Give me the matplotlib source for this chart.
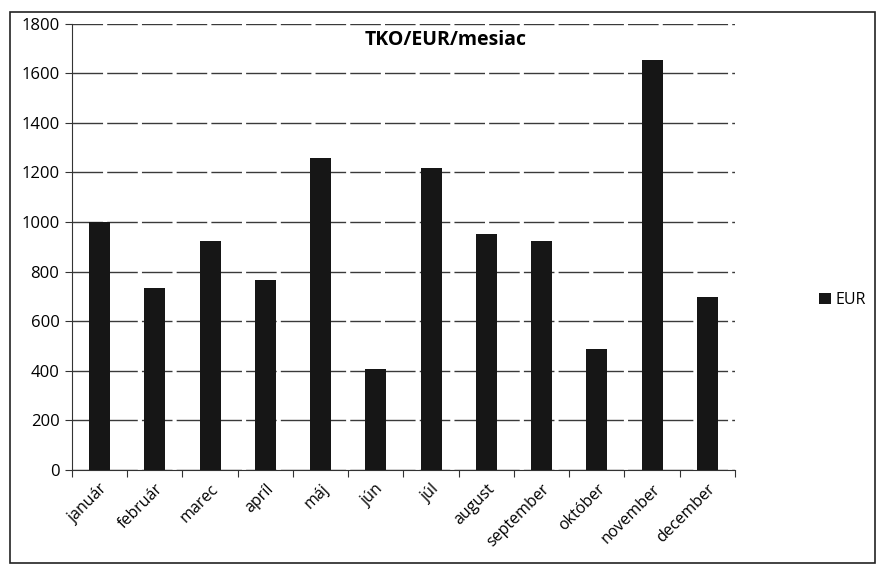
import matplotlib.pyplot as plt
from matplotlib.patches import Rectangle

months = ["január", "február", "marec", "apríl", "máj", "jún",
          "júl", "august", "september", "október", "november", "december"]
eur = [1000, 732, 925, 765, 1258, 405, 1216, 950, 925, 488, 1655, 697]
y_ticks = [0, 200, 400, 600, 800, 1000, 1200, 1400, 1600, 1800]

plt.rcParams['font.family'] = ['Open Sans', 'DejaVu Sans']

fig = plt.figure(figsize=(8.77, 5.66), dpi=100)
ax = fig.add_axes([0.082, 0.170, 0.756, 0.788])

x = list(range(len(months)))
ax.bar(x, eur, width=0.38, color='#161616', label='EUR', zorder=3)

# broken grid lines like the scanned one
ax.set_ylim(0, 1800)
ax.set_yticks(y_ticks)
ax.yaxis.grid(True, color='#3a3a3a', linewidth=1.0, linestyle=(0, (22, 3)), zorder=0)
ax.set_xlim(-0.5, len(months) - 0.5)

# tick marks sit between the categories, labels centred under bars
ax.set_xticks([i - 0.5 for i in range(len(months) + 1)])
ax.set_xticklabels([])
ax.set_xticks(x, minor=True)
ax.set_xticklabels(months, minor=True, rotation=45, ha='right', rotation_mode='anchor', fontsize=11.5)
ax.tick_params(axis='x', which='minor', length=0, pad=8)
ax.tick_params(axis='x', which='major', length=5, color='#333')
ax.tick_params(axis='y', length=5, color='#333', labelsize=12, pad=4)

for side in ['top', 'right']:
    ax.spines[side].set_visible(False)
ax.spines['left'].set_color('#333')
ax.spines['bottom'].set_color('#333')

fig.text(0.508, 0.93, 'TKO/EUR/mesiac', fontsize=14, fontweight='bold', ha='center', va='center')

fig.legend(loc='center left', bbox_to_anchor=(0.918, 0.47), frameon=False,
           fontsize=11.5, handlelength=0.7, handleheight=0.7, handletextpad=0.3)

# outer chart border
fig.patches.append(Rectangle((0.011, 0.006), 0.987, 0.972, transform=fig.transFigure,
                             fill=False, edgecolor='#222', linewidth=1.2))

fig.savefig('out.png', dpi=100)
